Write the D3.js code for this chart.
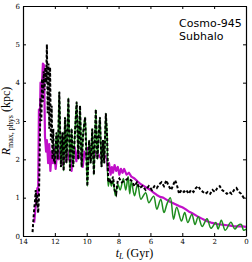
<!DOCTYPE html>
<html>
<head>
<meta charset="utf-8">
<script src="https://cdn.jsdelivr.net/npm/d3@7"></script>
<style>
  body { margin: 0; background: #fff; }
  svg { display: block; }
</style>
</head>
<body>
<div id="chart"></div>
<script>
// lookback time (Gyr) and R_max,phys (kpc)
const magentaT = [13.3,13.2,13.15,13.1,13.05,13.0,12.95,12.9,12.85,12.75,12.68,12.62,12.55,12.5,12.42,12.35,12.28,12.2,12.12,12.05,11.95,11.85,11.75,11.65,11.55,11.45,11.35,11.25,11.15,11.05,10.95,10.85,10.75,10.65,10.55,10.45,10.35,10.25,10.15,10.05,9.95,9.85,9.75,9.6,9.5,9.4,9.3,9.15,9.0,8.85,8.75,8.68,8.6,8.5,8.42,8.35,8.25,8.15,8.05,7.95,7.85,7.75,7.65,7.5,7.35,7.2,7.0,6.8,6.6,6.4,6.2,6.0,5.8,5.6,5.4,5.2,5.0,4.8,4.6,4.4,4.2,4.0,3.8,3.6,3.4,3.2,3.0,2.8,2.6,2.4,2.2,2.0,1.8,1.6,1.4,1.2,1.0,0.8,0.5,0.2,0.0];
const magentaR = [0.35,0.8,1.0,1.25,1.1,3.3,2.8,4.0,3.6,4.5,4.45,2.6,2.2,2.5,1.9,2.4,1.7,2.2,1.9,2.3,1.75,2.2,2.0,2.35,1.85,2.2,1.95,2.3,2.0,2.2,1.7,2.1,2.3,1.95,2.25,2.05,2.15,1.8,2.2,2.05,2.3,2.1,2.2,2.05,2.2,2.1,2.15,2.05,2.1,2.1,2.05,1.7,1.9,1.6,1.8,1.65,1.85,1.7,1.8,1.6,1.75,1.65,1.75,1.6,1.65,1.55,1.5,1.42,1.35,1.3,1.25,1.2,1.13,1.07,1.02,1.0,0.95,0.9,0.86,0.82,0.78,0.75,0.7,0.64,0.6,0.55,0.5,0.46,0.42,0.38,0.35,0.33,0.31,0.3,0.29,0.28,0.27,0.26,0.25,0.25,0.24];

const greenT = [12.0,11.9,11.82,11.72,11.62,11.52,11.45,11.36,11.27,11.15,11.05,10.95,10.85,10.75,10.63,10.53,10.42,10.32,10.22,10.1,9.96,9.85,9.75,9.65,9.55,9.43,9.33,9.25,9.17,9.07,8.98,8.9,8.8,8.72,8.65,8.55,8.45,8.35,8.2,8.05,7.9,7.7,7.55,7.4,7.3,7.2,7.0,6.8,6.6,6.3,6.1,5.8,5.6,5.35,5.15,4.95,4.75,4.55,4.35,4.05,3.85,3.65,3.4,3.2,3.0,2.75,2.45,2.2,1.9,1.75,1.55,1.3,0.95,0.7,0.5,0.3,0.15,0.0];
const greenR = [1.9,2.7,2.0,3.76,1.8,2.7,1.7,3.1,1.9,3.6,1.7,2.8,1.8,2.6,3.5,2.0,3.4,1.8,2.7,3.1,1.3,2.5,1.9,2.8,1.6,3.3,2.0,2.6,3.1,1.8,2.5,1.9,3.2,2.6,1.3,1.5,1.3,1.45,1.05,1.35,1.2,1.5,1.2,1.55,1.1,1.43,1.05,1.35,0.96,1.13,0.87,1.04,0.7,0.96,0.61,0.85,1.0,0.44,0.75,0.39,0.61,0.35,0.57,0.3,0.5,0.25,0.45,0.2,0.35,0.18,0.41,0.15,0.36,0.18,0.28,0.3,0.15,0.18];

const blackEarlyT = [13.4,13.35,13.3,13.25,13.2,13.15,13.1,13.05,13.0,12.95,12.9,12.85,12.8,12.75,12.7,12.65,12.6,12.55,12.5,12.45,12.4,12.35,12.3,12.25,12.2,12.15,12.1,12.05,12.0];
const blackEarlyR = [0.1,0.4,0.7,0.9,1.2,0.8,1.1,0.6,1.0,2.2,3.6,3.0,4.1,3.5,4.3,3.8,4.4,4.0,5.0,3.2,4.5,2.8,4.4,2.5,3.4,2.0,2.8,1.9,1.9];
const blackLateT = [8.65,8.55,8.45,8.35,8.25,8.15,8.05,7.95,7.8,7.6,7.4,7.2,7.0,6.85,6.7,6.5,6.3,6.1,5.9,5.75,5.6,5.45,5.3,5.15,5.0,4.85,4.7,4.55,4.45,4.35,4.2,4.05,3.9,3.75,3.6,3.45,3.3,3.15,3.0,2.85,2.7,2.55,2.4,2.25,2.1,1.95,1.8,1.65,1.5,1.35,1.2,1.05,0.9,0.75,0.6,0.45,0.3,0.15,0.05];
const blackLateR = [1.4,1.5,1.35,1.55,1.2,1.1,1.45,1.5,1.4,1.45,1.5,1.45,1.3,1.4,1.25,1.3,1.2,1.3,1.2,1.3,1.25,1.35,1.4,1.3,1.45,1.3,1.2,1.35,1.45,1.35,1.1,1.2,1.15,1.2,1.1,1.2,1.15,1.25,1.3,1.2,1.15,1.1,1.15,1.1,1.2,1.15,1.25,1.3,1.2,1.15,1.1,1.15,1.1,1.2,1.25,1.15,1.1,1.0,0.95];

const xTicks = [14,12,10,8,6,4,2,0];
const yTicks = [0,1,2,3,4,5,6];

const zip = (ts, rs) => ts.map((t, i) => ({t: t, r: rs[i]}));
const magenta = zip(magentaT, magentaR);
const green = zip(greenT, greenR);
// the dashed black track runs on top of the green one between 12 and 8.7 Gyr
const black = zip(blackEarlyT, blackEarlyR)
    .concat(green.filter(d => d.t < 12 && d.t > 8.66))
    .concat(zip(blackLateT, blackLateR));

const size = {width: 252, height: 262};
const margin = {top: 6, right: 6, bottom: 26, left: 23};
const width = size.width - margin.left - margin.right;
const height = size.height - margin.top - margin.bottom;

const svg = d3.select("#chart").append("svg")
    .attr("width", size.width)
    .attr("height", size.height);
const g = svg.append("g")
    .attr("transform", "translate(" + margin.left + "," + margin.top + ")");

const xScale = d3.scaleLinear().domain([14, 0]).range([0, width]);
const yScale = d3.scaleLinear().domain([0, 6]).range([height, 0]);

const line = d3.line().x(d => xScale(d.t)).y(d => yScale(d.r));
const smoothLine = d3.line().x(d => xScale(d.t)).y(d => yScale(d.r))
    .curve(d3.curveCatmullRom.alpha(0.5));

g.append("path").datum(magenta)
    .attr("d", line).attr("fill", "none")
    .attr("stroke", "#c010c8").attr("stroke-width", 2.2)
    .attr("stroke-linejoin", "round");
g.append("path").datum(green)
    .attr("d", smoothLine).attr("fill", "none")
    .attr("stroke", "#1e8c1e").attr("stroke-width", 1.5)
    .attr("stroke-linejoin", "round");
g.append("path").datum(black)
    .attr("d", line).attr("fill", "none")
    .attr("stroke", "#000").attr("stroke-width", 2)
    .attr("stroke-dasharray", "3,2");

// axes with inward ticks on all four sides
const tickLen = 3;
const xBottom = d3.axisBottom(xScale).tickValues(xTicks).tickSizeInner(-tickLen).tickSizeOuter(0).tickPadding(3).tickFormat(d3.format("d"));
const xTop = d3.axisTop(xScale).tickValues(xTicks).tickSizeInner(-tickLen).tickSizeOuter(0).tickFormat("");
const yLeft = d3.axisLeft(yScale).tickValues(yTicks).tickSizeInner(-tickLen).tickSizeOuter(0).tickPadding(3).tickFormat(d3.format("d"));
const yRight = d3.axisRight(yScale).tickValues(yTicks).tickSizeInner(-tickLen).tickSizeOuter(0).tickFormat("");

g.append("g").attr("transform", "translate(0," + height + ")").call(xBottom);
g.append("g").call(xTop);
g.append("g").call(yLeft);
g.append("g").attr("transform", "translate(" + width + ",0)").call(yRight);

g.selectAll(".domain").attr("stroke", "#000").attr("stroke-width", 1.2);
g.selectAll(".tick line").attr("stroke", "#000").attr("stroke-width", 1);
g.selectAll(".tick text")
    .style("font-family", "'DejaVu Serif', serif")
    .style("font-size", "7px")
    .attr("fill", "#000");

// axis titles
const xLabel = svg.append("text")
    .attr("x", margin.left + width / 2)
    .attr("y", 257)
    .attr("text-anchor", "middle")
    .style("font-family", "'Liberation Serif', 'DejaVu Serif', serif")
    .style("font-size", "12px");
xLabel.append("tspan").style("font-style", "italic").text("t");
xLabel.append("tspan").style("font-style", "italic").style("font-size", "8px").attr("dy", 2).text("L");
xLabel.append("tspan").attr("dy", -2).text(" (Gyr)");

const yLabel = svg.append("text")
    .attr("transform", "translate(10," + (margin.top + height / 2) + ") rotate(-90)")
    .attr("text-anchor", "middle")
    .style("font-family", "'Liberation Serif', 'DejaVu Serif', serif")
    .style("font-size", "12px");
yLabel.append("tspan").style("font-style", "italic").text("R");
yLabel.append("tspan").style("font-size", "8px").attr("dy", 2.5).text("max, phys");
yLabel.append("tspan").attr("dy", -2.5).text(" (kpc)");

// annotation
const note = g.append("text")
    .attr("y", yScale(5.45))
    .style("font-family", "'DejaVu Sans', sans-serif")
    .style("font-size", "11px");
note.append("tspan").attr("x", xScale(4.2)).text("Cosmo-945");
note.append("tspan").attr("x", xScale(4.2)).attr("dy", 12.5).text("Subhalo");
</script>
</body>
</html>
